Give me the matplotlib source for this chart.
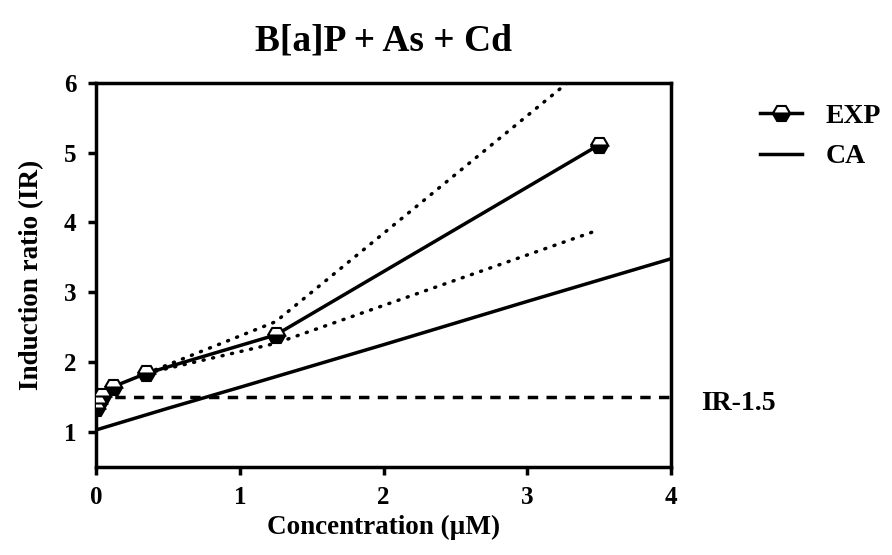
import matplotlib
matplotlib.use("Agg")
import matplotlib.pyplot as plt
from matplotlib.lines import Line2D

plt.rcParams['font.family'] = ['Liberation Serif', 'DejaVu Serif']
plt.rcParams['font.weight'] = 'bold'

# Data
exp_x = [0.0, 0.012, 0.04, 0.12, 0.35, 1.25, 3.5]
exp_y = [1.35, 1.42, 1.52, 1.65, 1.84, 2.39, 5.11]
upper_x = [0.35, 1.25, 3.5]
upper_y = [1.84, 2.58, 6.37]
lower_x = [0.35, 1.25, 3.45]
lower_y = [1.84, 2.27, 3.86]
ca_x = [0.0, 0.5, 1.0, 2.0, 3.0, 4.0]
ca_y = [1.03, 1.34, 1.64, 2.25, 2.87, 3.48]
ir_level = 1.5
x_ticks = [0, 1, 2, 3, 4]
y_ticks = [1, 2, 3, 4, 5, 6]

fig = plt.figure(figsize=(8.92, 5.55), dpi=100)
ax = fig.add_axes([96/892, 1-467/555, (671-96)/892, (467-82.7)/555])

LW = 2.5
ax.plot(ca_x, ca_y, color='black', lw=LW, solid_capstyle='butt')
ax.plot(upper_x, upper_y, color='black', lw=LW, linestyle=(0, (0.3, 2.5)), dash_capstyle='round')
ax.plot(lower_x, lower_y, color='black', lw=LW, linestyle=(0, (0.3, 2.5)), dash_capstyle='round')
ax.plot([0, 4], [ir_level, ir_level], color='black', lw=LW, linestyle=(0, (3.0, 2.4)))
ax.plot(exp_x, exp_y, color='black', lw=LW, marker='H', markersize=12.5,
        fillstyle='bottom', markerfacecolor='black', markerfacecoloralt='white',
        markeredgecolor='black', markeredgewidth=1.5, zorder=5)

ax.set_xlim(0, 4)
ax.set_ylim(0.5, 6)
ax.set_xticks(x_ticks)
ax.set_yticks(y_ticks)
for s in ax.spines.values():
    s.set_linewidth(LW)
ax.tick_params(direction='out', length=6, width=LW, labelsize=18, pad=8)

ax.set_xlabel('Concentration (\u00b5M)', fontsize=19.5, fontweight='bold', labelpad=4)
ax.set_ylabel('Induction ratio (IR)', fontsize=19.5, fontweight='bold', labelpad=14)
ax.set_title('B[a]P + As + Cd', fontsize=27, fontweight='bold', pad=23)

ax.text(4.21, 1.41, 'IR-1.5', fontsize=20, fontweight='bold', va='center', ha='left', clip_on=False)

handles = [
    Line2D([], [], color='black', lw=LW, marker='H', markersize=12.5, fillstyle='bottom',
           markerfacecolor='black', markerfacecoloralt='white', markeredgecolor='black',
           markeredgewidth=1.5),
    Line2D([], [], color='black', lw=LW),
]
fig.legend(handles, ['EXP', 'CA'], loc='upper left', bbox_to_anchor=(0.852, 0.814),
           frameon=False, fontsize=20, handlelength=1.5, handletextpad=0.85, labelspacing=0.55,
           borderpad=0, borderaxespad=0)

fig.savefig('out.png', dpi=100)
